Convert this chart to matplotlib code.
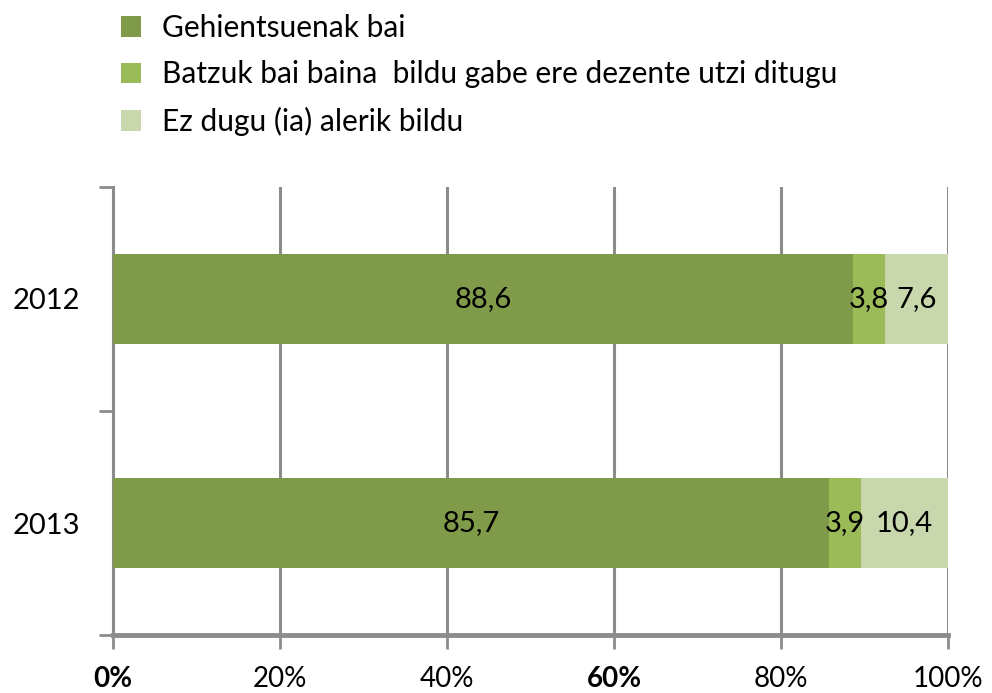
import matplotlib
matplotlib.use("Agg")
import matplotlib.pyplot as plt
from matplotlib.patches import Patch
import numpy as np

plt.rcParams['font.family'] = ['Lato', 'DejaVu Sans']

years = ["2012", "2013"]
series_names = ["Gehientsuenak bai",
                "Batzuk bai baina  bildu gabe ere dezente utzi ditugu",
                "Ez dugu (ia) alerik bildu"]
gehientsuenak = [88.6, 85.7]
batzuk = [3.8, 3.9]
ez_dugu = [7.6, 10.4]
labels = [["88,6", "85,7"], ["3,8", "3,9"], ["7,6", "10,4"]]
xtick_labels = ["0%", "20%", "40%", "60%", "80%", "100%"]
colors = ["#7F9A48", "#9BBB59", "#C8D7AC"]

fig = plt.figure(figsize=(9.92, 6.93), dpi=100)
ax = fig.add_axes([113/992, 1-635/693, (948-113)/992, (635-187)/693])

y = np.arange(len(years))
left = np.zeros(len(years))
for vals, col, lab in zip([gehientsuenak, batzuk, ez_dugu], colors, labels):
    vals = np.array(vals)
    bars = ax.barh(y, vals, left=left, height=0.4, color=col, edgecolor='none', zorder=3)
    ax.bar_label(bars, labels=lab, label_type='center', fontsize=21, color='black', zorder=4)
    left += vals

ax.set_xlim(0, 100)
ax.set_ylim(1.5, -0.5)
gray = "#8C8C8C"
ax.set_xticks(np.arange(0, 101, 20))
ax.set_xticklabels(xtick_labels, fontsize=20)
for i, t in enumerate(ax.get_xticklabels()):
    if xtick_labels[i] in ("0%", "60%"):
        t.set_fontweight('bold')
ax.set_yticks([-0.5, 0.5, 1.5])
ax.set_yticklabels([])
ax.set_yticks(y, minor=True)
ax.set_yticklabels(years, minor=True, fontsize=21)
ax.tick_params(axis='y', which='minor', length=0, pad=24)
ax.tick_params(axis='y', which='major', length=10, width=2, color=gray)
ax.tick_params(axis='x', length=10, width=2, color=gray, pad=12)

for xv in np.arange(20, 101, 20):
    ax.axvline(xv, color=gray, lw=2.2, zorder=1)
for s in ['top', 'right']:
    ax.spines[s].set_visible(False)
ax.spines['left'].set_color(gray)
ax.spines['left'].set_linewidth(2.2)
ax.spines['bottom'].set_color(gray)
ax.spines['bottom'].set_linewidth(3.5)

handles = [Patch(facecolor=c, edgecolor='none') for c in colors]
fig.legend(handles, series_names, loc='upper left', bbox_to_anchor=(109/992, 1-2/693),
           frameon=False, fontsize=21.5, handlelength=0.68, handleheight=0.68,
           handletextpad=0.68, labelspacing=0.62, borderaxespad=0)

fig.savefig("out.png", dpi=100)
